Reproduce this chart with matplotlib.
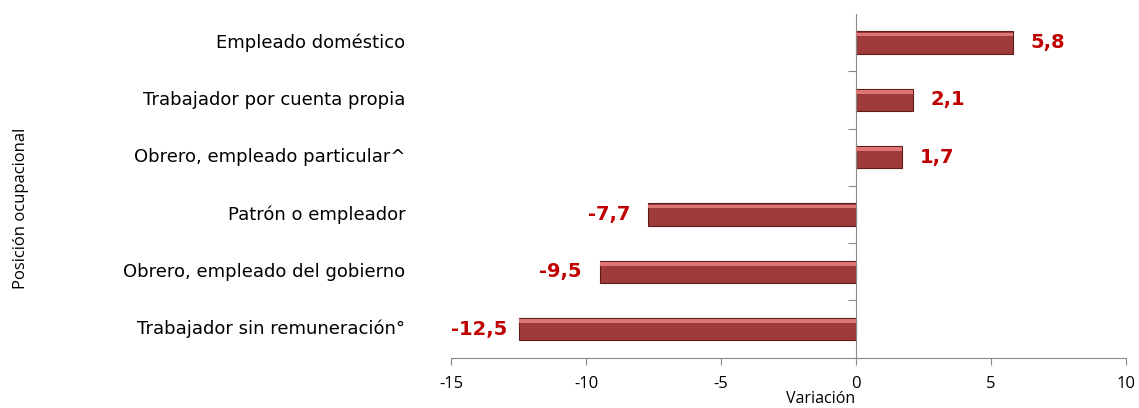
import matplotlib.pyplot as plt
from matplotlib.transforms import blended_transform_factory

# Data
categorias = ['Empleado doméstico',
              'Trabajador por cuenta propia',
              'Obrero, empleado particular^',
              'Patrón o empleador',
              'Obrero, empleado del gobierno',
              'Trabajador sin remuneración°']
variacion = [5.8, 2.1, 1.7, -7.7, -9.5, -12.5]
etiquetas = ['5,8', '2,1', '1,7', '-7,7', '-9,5', '-12,5']
x_ticks = [-15, -10, -5, 0, 5, 10]

plt.rcParams['font.family'] = ['Open Sans', 'DejaVu Sans']

fig = plt.figure(figsize=(11.39, 4.08), dpi=100)
ax = fig.add_axes([0.396, 0.123, 0.5926, 0.843])

n = len(categorias)
y = list(range(n - 1, -1, -1))

ax.barh(y, variacion, height=0.39, color='#9E3B3A', edgecolor='#5E1A1A', linewidth=0.8, zorder=2)
# lighter bevel along the top of each bar
ax.barh([v + 0.14 for v in y], variacion, height=0.06, color='#DC7573', linewidth=0, zorder=3)

ax.set_xlim(-15, 10)
ax.set_ylim(-0.5, n - 0.5)
ax.set_xticks(x_ticks)
ax.set_xticklabels([str(t) for t in x_ticks], fontsize=12, family='Open Sans')
ax.tick_params(axis='x', length=5, color='#888888', pad=8)

# vertical axis at zero with ticks between categories
ax.spines['left'].set_position(('data', 0))
ax.spines['left'].set_color('#888888')
ax.spines['bottom'].set_color('#888888')
ax.spines['right'].set_visible(False)
ax.spines['top'].set_visible(False)
ax.set_yticks([i + 0.5 for i in range(n - 1)])
ax.set_yticklabels([])
ax.tick_params(axis='y', length=6, color='#888888')

trans = blended_transform_factory(ax.transAxes, ax.transData)
for yy, cat in zip(y, categorias):
    ax.text(-0.068, yy, cat, transform=trans, ha='right', va='center',
            fontsize=13, family='DejaVu Sans')

fig.canvas.draw()
renderer = fig.canvas.get_renderer()
xmin = ax.get_xlim()[0]
for yy, v, lab in zip(y, variacion, etiquetas):
    if v >= 0:
        ax.text(v + 0.65, yy, lab, ha='left', va='center', fontsize=14,
                fontweight='bold', color='#C00000', family='DejaVu Sans')
    else:
        t = ax.text(v - 0.65, yy, lab, ha='right', va='center', fontsize=14,
                    fontweight='bold', color='#C00000', family='DejaVu Sans')
        # keep the label inside the plot area, as the original does
        bb = t.get_window_extent(renderer)
        left = ax.transData.inverted().transform((bb.x0, bb.y0))[0]
        if left < xmin:
            t.set_x(v - 0.65 + (xmin - left))

ax.set_xlabel('Variación', fontsize=11.5, family='Open Sans')
ax.xaxis.set_label_coords(0.548, -0.097)
fig.text(0.018, 0.49, 'Posición ocupacional', rotation=90, ha='center', va='center',
         fontsize=12, family='Open Sans')

fig.savefig('out.png', dpi=100)
